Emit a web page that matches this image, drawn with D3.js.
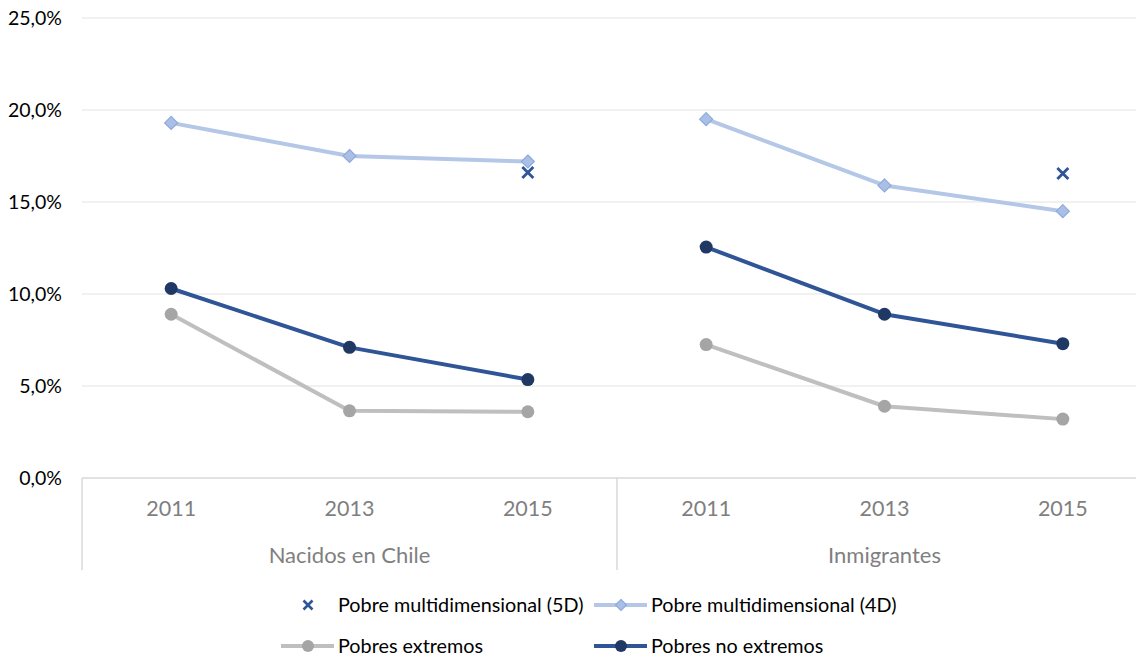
<!DOCTYPE html>
<html><head><meta charset="utf-8">
<script src="https://cdn.jsdelivr.net/npm/d3@7"></script>
<style>body{margin:0;background:#fff}svg{display:block}</style>
</head><body>
<svg id="c" width="1136" height="657"></svg>
<script>
const groups = ["Nacidos en Chile", "Inmigrantes"];
const years = ["2011", "2013", "2015"];
const yTicks = [0, 5, 10, 15, 20, 25];
// values in %, per group x year
const pobreMulti4D = [19.3, 17.5, 17.2, 19.5, 15.9, 14.5];
const pobreMulti5D = [null, null, 16.6, null, null, 16.55];
const pobresExtremos = [8.9, 3.65, 3.6, 7.25, 3.9, 3.2];
const pobresNoExtremos = [10.3, 7.1, 5.35, 12.55, 8.9, 7.3];

(function () {
const keys = [];
groups.forEach(g => years.forEach(y => keys.push(g + "|" + y)));

const svg = d3.select("#c");
const font = "Lato, 'Open Sans', sans-serif";
const pLeft = 82, pRight = 1152, pTop = 18, pBottom = 478;
const x = d3.scaleBand().domain(keys).range([pLeft, pRight]);
const y = d3.scaleLinear().domain([0, 25]).range([pBottom, pTop]);
const cx = k => x(k) + x.bandwidth() / 2;

// gridlines
svg.append("g").selectAll("line").data(yTicks.filter(t => t > 0)).join("line")
  .attr("x1", pLeft).attr("x2", pRight).attr("y1", d => y(d)).attr("y2", d => y(d))
  .attr("stroke", "#ececec").attr("stroke-width", 1.5);

// y axis labels
const yAxis = d3.axisLeft(y).tickValues(yTicks).tickSize(0).tickPadding(20)
  .tickFormat(d => d3.format(".1f")(d).replace(".", ",") + "%");
const ya = svg.append("g").attr("transform", `translate(${pLeft},0)`).call(yAxis);
ya.select(".domain").remove();
ya.selectAll("text").attr("font-family", font).attr("font-size", 19.5).attr("fill", "#000");

// x axis line
svg.append("line").attr("x1", pLeft).attr("x2", pRight).attr("y1", pBottom).attr("y2", pBottom)
  .attr("stroke", "#d9d9d9").attr("stroke-width", 1.5);
// group separators
const gx = [pLeft, pLeft + (pRight - pLeft) / 2, pRight];
svg.append("g").selectAll("line").data(gx).join("line")
  .attr("x1", d => d).attr("x2", d => d).attr("y1", pBottom).attr("y2", 570)
  .attr("stroke", "#d9d9d9").attr("stroke-width", 1.5);

// year labels
svg.append("g").selectAll("text").data(keys).join("text")
  .attr("x", d => cx(d)).attr("y", 516).attr("text-anchor", "middle")
  .attr("font-family", font).attr("font-size", 21.5).attr("fill", "#7f7f7f")
  .text(d => d.split("|")[1]);
// group labels
svg.append("g").selectAll("text").data(groups).join("text")
  .attr("x", (d, i) => (gx[i] + gx[i + 1]) / 2).attr("y", 563).attr("text-anchor", "middle")
  .attr("font-family", font).attr("font-size", 22).attr("fill", "#7f7f7f")
  .text(d => d);

function drawMarker(px, py, shape, fill, stroke) {
  if (shape === "circle") {
    svg.append("circle").attr("cx", px).attr("cy", py).attr("r", 6.5).attr("fill", fill);
  } else if (shape === "diamond") {
    const s = 6.5;
    svg.append("path").attr("d", `M${px},${py - s}L${px + s},${py}L${px},${py + s}L${px - s},${py}Z`)
      .attr("fill", fill).attr("stroke", stroke).attr("stroke-width", 1.2);
  } else if (shape === "x") {
    const s = 5.5;
    svg.append("path").attr("d", `M${px - s},${py - s}L${px + s},${py + s}M${px + s},${py - s}L${px - s},${py + s}`)
      .attr("stroke", fill).attr("stroke-width", 2.8).attr("fill", "none");
  }
}
function drawSeries(vals, lineColor, markerFill, markerStroke, shape) {
  groups.forEach((g, gi) => {
    const pts = years.map((yr, i) => ({ k: g + "|" + yr, v: vals[gi * 3 + i] }));
    const line = d3.line().x(d => cx(d.k)).y(d => y(d.v));
    svg.append("path").datum(pts).attr("d", line).attr("fill", "none")
      .attr("stroke", lineColor).attr("stroke-width", 4).attr("stroke-linejoin", "round");
    pts.forEach(p => drawMarker(cx(p.k), y(p.v), shape, markerFill, markerStroke));
  });
}

drawSeries(pobresExtremos, "#bfbfbf", "#a5a5a5", null, "circle");
drawSeries(pobresNoExtremos, "#2f5597", "#1f3864", null, "circle");
drawSeries(pobreMulti4D, "#b4c7e7", "#a9bfe6", "#8eaadb", "diamond");
keys.forEach((k, i) => { if (pobreMulti5D[i] != null) drawMarker(cx(k), y(pobreMulti5D[i]), "x", "#2f5597"); });

// legend
const lg = svg.append("g");
const legendItems = [
  { label: "Pobre multidimensional (5D)", x0: 281, yy: 605, shape: "x", line: null, fill: "#2f5597" },
  { label: "Pobre multidimensional (4D)", x0: 594, yy: 605, shape: "diamond", line: "#b4c7e7", fill: "#a9bfe6", stroke: "#8eaadb" },
  { label: "Pobres extremos", x0: 281, yy: 646, shape: "circle", line: "#bfbfbf", fill: "#a5a5a5" },
  { label: "Pobres no extremos", x0: 594, yy: 646, shape: "circle", line: "#2f5597", fill: "#1f3864" }
];
legendItems.forEach(it => {
  const mx = it.x0 + 27;
  if (it.line) lg.append("line").attr("x1", it.x0).attr("x2", it.x0 + 53).attr("y1", it.yy).attr("y2", it.yy)
    .attr("stroke", it.line).attr("stroke-width", 4);
  if (it.shape === "circle") lg.append("circle").attr("cx", mx).attr("cy", it.yy).attr("r", 6).attr("fill", it.fill);
  else if (it.shape === "diamond") { const s = 5.5; lg.append("path").attr("d", `M${mx},${it.yy - s}L${mx + s},${it.yy}L${mx},${it.yy + s}L${mx - s},${it.yy}Z`).attr("fill", it.fill).attr("stroke", it.stroke).attr("stroke-width", 1.2); }
  else if (it.shape === "x") { const s = 4.5; lg.append("path").attr("d", `M${mx - s},${it.yy - s}L${mx + s},${it.yy + s}M${mx + s},${it.yy - s}L${mx - s},${it.yy + s}`).attr("stroke", it.fill).attr("stroke-width", 2.6); }
  lg.append("text").attr("x", it.x0 + 57).attr("y", it.yy).attr("dy", "0.35em")
    .attr("font-family", font).attr("font-size", 19.8).attr("fill", "#000").text(it.label);
});
})();
</script>
</body></html>
